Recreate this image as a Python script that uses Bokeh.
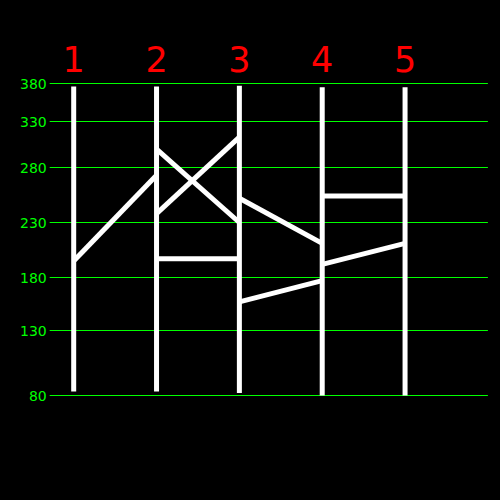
import numpy as np
from bokeh.plotting import figure
from bokeh.models import Range1d, ColumnDataSource
from bokeh.core.properties import value
from bokeh.embed import file_html
from bokeh.resources import INLINE

# ---- data ----
axis_labels = ["1", "2", "3", "4", "5"]
axis_top = [376, 376, 377, 375, 375]
axis_bottom = [83, 83, 82, 80, 80]

tick_values = [80, 130, 180, 230, 280, 330, 380]
tick_labels = ["80", "130", "180", "230", "280", "330", "380"]

seg_from_axis = [1, 2, 2, 2, 3, 3, 4, 4]
seg_from_val = [195, 300, 238, 197, 252, 157, 192, 254]
seg_to_val = [273, 230, 313, 197, 211, 177, 211, 254]

# uneven vertical scale of the chart (screen row of each tick, from top)
tick_rows = [395, 330, 277, 222, 167, 121, 83]


def ys(v):
    return np.interp(np.asarray(v, dtype=float), tick_values, tick_rows)


p = figure(width=500, height=500, output_backend="svg", toolbar_location=None,
           x_range=Range1d(0.1164, 6.1521), y_range=Range1d(500, 0),
           min_border=0, background_fill_color="black", border_fill_color="black",
           outline_line_color=None)
p.axis.visible = False
p.grid.visible = False

# grid lines
gy = ys(tick_values)
p.segment(x0=[0.71] * len(tick_values), x1=[6.0] * len(tick_values), y0=gy, y1=gy,
          line_color="#00ff00", line_width=1)

# tick labels
p.text(x=[1] * len(tick_values), y=gy, text=tick_labels, x_offset=-27,
       text_align="right", text_baseline="middle", text_color="#00ff00",
       text_font=value("DejaVu Sans"), text_font_size="14px")

# vertical axes
ax = np.arange(1, len(axis_labels) + 1)
p.segment(x0=ax, x1=ax, y0=ys(axis_top), y1=ys(axis_bottom),
          line_color="white", line_width=5)

# axis labels
p.text(x=ax, y=ys([380] * len(ax)), text=axis_labels, y_offset=-25,
       text_align="center", text_baseline="middle", text_color="#ff0000",
       text_font=value("DejaVu Sans"), text_font_size="35px")

# connecting segments
sx0 = np.array(seg_from_axis, dtype=float)
src = ColumnDataSource(dict(x0=sx0, x1=sx0 + 1, y0=ys(seg_from_val), y1=ys(seg_to_val)))
p.segment(x0="x0", x1="x1", y0="y0", y1="y1", source=src,
          line_color="white", line_width=5)

html = file_html(p, INLINE)
html = html.replace("<head>", "<head><style>html,body{background:#000;}</style>", 1)
open("out.html", "w").write(html)
